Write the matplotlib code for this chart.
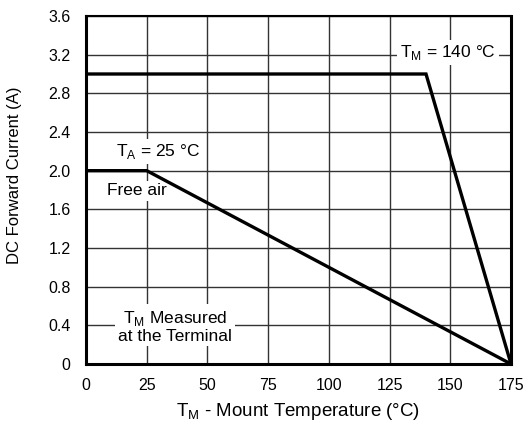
import matplotlib
matplotlib.use('Agg')
import matplotlib.pyplot as plt

plt.rcParams['font.family'] = ['Liberation Sans', 'DejaVu Sans']
plt.rcParams['mathtext.fontset'] = 'custom'
plt.rcParams['mathtext.rm'] = 'Liberation Sans'

# derating curves
mount_temp = [0, 140, 175]
mount_current = [3.0, 3.0, 0.0]
air_temp = [0, 25, 175]
air_current = [2.0, 2.0, 0.0]

x_ticks = [0, 25, 50, 75, 100, 125, 150, 175]
y_ticks = [0, 0.4, 0.8, 1.2, 1.6, 2.0, 2.4, 2.8, 3.2, 3.6]
y_labels = ['0', '0.4', '0.8', '1.2', '1.6', '2.0', '2.4', '2.8', '3.2', '3.6']

fig = plt.figure(figsize=(5.25, 4.24), dpi=100)
ax = fig.add_axes([86 / 525, 1 - 364 / 424, 425 / 525, 348 / 424])

ax.set_xlim(0, 175)
ax.set_ylim(0, 3.6)
ax.set_xticks(x_ticks)
ax.set_yticks(y_ticks)
ax.set_yticklabels(y_labels)
ax.tick_params(length=0, labelsize=11.5)
ax.tick_params(axis='y', pad=11)
ax.tick_params(axis='x', pad=10)
ax.grid(True, color='#333333', linewidth=1.0)
ax.set_axisbelow(True)
for side in ['left', 'bottom', 'right']:
    ax.spines[side].set_linewidth(2.2)
ax.spines['top'].set_linewidth(1.5)

ax.plot(mount_temp, mount_current, color='black', linewidth=2.4, solid_joinstyle='miter', zorder=3)
ax.plot(air_temp, air_current, color='black', linewidth=2.4, solid_joinstyle='miter', zorder=3)

# labels sit on white boxes so they break the grid lines
box = dict(facecolor='white', edgecolor='none', pad=2)
ax.text(29.6, 2.2, r'T$_\mathregular{A}$ = 25 °C', ha='center', va='center', fontsize=12.5, bbox=box, zorder=2)
ax.text(20.8, 1.79, 'Free air', ha='center', va='center', fontsize=12.5, bbox=box, zorder=2)
ax.text(149, 3.22, r'T$_\mathregular{M}$ = 140 °C', ha='center', va='center', fontsize=12.5, bbox=box, zorder=2)
ax.text(36.6, 0.39, 'T$_\\mathregular{M}$ Measured\nat the Terminal', ha='center', va='center',
        fontsize=12.5, linespacing=1.05, bbox=box, zorder=2)

fig.text(15 / 525, 1 - 175 / 424, 'DC Forward Current (A)', rotation=90,
         ha='center', va='center', fontsize=12)
fig.text(298.5 / 525, 1 - 416 / 424, r'T$_\mathregular{M}$ - Mount Temperature (°C)',
         ha='center', va='baseline', fontsize=13.5)

fig.savefig('out.png', dpi=100)
